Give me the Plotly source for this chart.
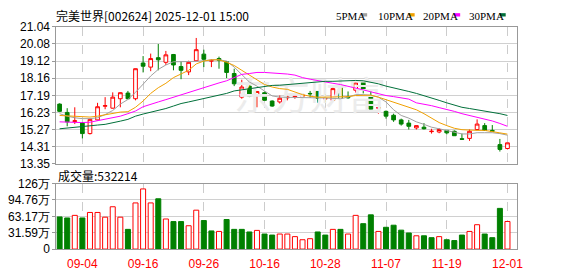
import plotly.graph_objects as go

W, H = 578, 276

dates = ["09-01","09-02","09-03","09-04","09-05","09-08","09-09","09-10","09-11","09-12",
         "09-15","09-16","09-17","09-18","09-19","09-22","09-23","09-24","09-25","09-26",
         "09-29","09-30","10-09","10-10","10-13","10-14","10-15","10-16","10-17","10-20",
         "10-21","10-22","10-23","10-24","10-27","10-28","10-29","10-30","10-31","11-03",
         "11-04","11-05","11-06","11-07","11-10","11-11","11-12","11-13","11-14","11-17",
         "11-18","11-19","11-20","11-21","11-24","11-25","11-26","11-27","11-28","12-01"]

opens = [16.70,16.23,15.72,15.63,15.04,15.81,16.58,16.47,17.00,17.32,
         17.00,19.01,18.78,19.31,19.05,19.49,18.81,18.51,19.135,19.51,
         19.12,19.26,19.08,18.42,17.09,17.71,17.23,17.34,16.87,16.82,
         17.05,17.12,17.14,17.30,17.41,16.99,16.91,17.66,17.10,17.48,
         17.98,17.18,16.47,16.29,16.07,15.81,15.63,15.36,15.40,15.15,
         15.13,15.22,15.17,14.75,14.77,15.27,15.49,15.22,14.42,14.20]
highs = [16.74,16.47,16.52,15.68,15.88,16.77,17.09,17.36,17.36,17.44,
         18.70,19.40,19.54,20.08,19.69,19.52,19.10,19.14,20.42,19.76,
         19.22,19.37,19.08,18.69,18.07,18.07,17.41,17.41,16.91,17.18,
         17.23,17.30,17.30,17.44,17.41,17.27,17.71,17.66,17.41,17.94,
         17.98,17.41,16.50,16.34,16.16,15.88,15.81,15.49,15.63,15.31,
         15.34,15.22,15.22,15.04,15.27,15.84,15.63,15.52,14.74,14.52]
lows = [16.25,15.45,15.575,14.77,14.99,15.78,16.41,16.45,16.52,16.98,
        16.91,18.48,18.55,18.60,18.90,18.60,18.10,18.33,19.12,18.78,
        18.78,18.69,18.16,17.71,17.00,17.09,16.52,16.91,16.55,16.73,
        16.91,17.00,17.00,17.05,16.77,16.80,16.87,16.91,17.00,17.35,
        17.30,16.29,16.16,15.88,15.70,15.49,15.27,15.27,15.27,15.04,
        15.06,14.99,14.92,14.70,14.63,15.22,15.22,15.17,14.03,14.15]
closes = [16.29,15.70,15.76,15.04,15.84,16.55,16.61,17.09,17.34,17.00,
          18.69,18.83,19.26,19.19,19.47,18.90,18.60,19.05,19.76,19.22,
          19.14,19.16,18.48,17.84,17.66,17.14,17.41,16.91,16.59,17.03,
          17.09,17.15,17.21,17.28,17.02,17.01,17.57,17.03,17.06,17.89,
          17.48,16.41,16.50,16.02,15.81,15.575,15.45,15.49,15.31,15.17,
          15.27,15.08,14.92,14.72,15.17,15.575,15.22,15.17,14.15,14.52]

ma5 = [16.16,16.02,15.93,15.88,15.88,15.93,16.11,16.34,16.70,16.96,
       17.36,17.84,18.28,18.65,18.90,19.08,19.08,19.08,19.10,19.14,
       19.19,19.19,19.12,18.78,18.37,17.94,17.71,17.41,17.16,17.09,
       17.09,17.09,17.09,17.09,17.05,17.04,17.02,17.00,17.09,17.23,
       17.23,17.20,17.09,16.82,16.38,16.06,15.91,15.70,15.56,15.40,
       15.31,15.22,15.13,15.02,15.02,15.09,15.09,15.09,15.04,14.95]
ma10 = [16.06,16.04,16.02,15.98,15.97,16.02,16.09,16.18,16.25,16.27,
        16.52,16.87,17.30,17.62,17.87,18.19,18.41,18.60,18.96,19.12,
        19.19,19.19,19.05,18.87,18.60,18.33,18.07,17.80,17.66,17.57,
        17.53,17.36,17.23,17.14,17.09,17.09,17.09,17.09,17.12,17.18,
        17.21,17.20,17.09,16.95,16.79,16.64,16.52,16.38,16.16,15.93,
        15.66,15.49,15.34,15.26,15.22,15.22,15.22,15.17,15.08,15.01]
ma20 = [15.70,15.68,15.66,15.66,15.68,15.77,15.88,15.95,16.02,16.16,
        16.31,16.55,16.70,16.82,16.95,17.09,17.23,17.34,17.48,17.62,
        17.75,17.89,18.01,18.19,18.37,18.42,18.48,18.48,18.46,18.42,
        18.39,18.33,18.19,18.10,18.01,17.93,17.87,17.80,17.71,17.62,
        17.50,17.39,17.27,17.18,17.12,17.05,16.98,16.77,16.70,16.61,
        16.50,16.41,16.29,16.16,16.06,15.97,15.88,15.75,15.61,15.45]
ma30 = [15.31,15.36,15.40,15.43,15.47,15.52,15.56,15.63,15.74,15.84,
        16.02,16.14,16.23,16.34,16.45,16.59,16.73,16.82,16.91,17.00,
        17.09,17.21,17.30,17.44,17.50,17.57,17.62,17.71,17.75,17.76,
        17.80,17.80,17.84,17.89,17.94,17.98,17.98,18.00,18.03,18.03,
        18.01,17.94,17.84,17.71,17.62,17.50,17.41,17.30,17.18,17.05,
        16.91,16.77,16.64,16.52,16.45,16.38,16.32,16.27,16.16,16.06]

# volume in 万 (10k)
volume = [62,60,65,60,70.6,70.6,61.5,81.6,61.5,38,
          89,116,89,97,58,53,53,45,75,55,
          35,34,57,38,38,33,36,29,27,29,
          29,24,18,20,33,27,38,38,29,65,
          49,66,34,42,46,36.5,31,25.6,25.6,22,
          24,18,16.4,27,34,47,29,22,78.5,53.2214]
last_volume_text = "532214"

price_ticks = [13.35,14.31,15.27,16.23,17.19,18.16,19.12,20.08,21.04]
price_tick_text = ["13.35","14.31","15.27","16.23","17.19","18.16","19.12","20.08","21.04"]
vol_ticks = [0,31.59,63.17,94.76,126.35]
vol_tick_text = ["0","31.59万","63.17万","94.76万","126万"]
label_dates = ["09-04","09-16","09-26","10-16","10-28","11-07","11-19","12-01"]

RED = "#ff0000"
GREEN = "#008000"
MA_COLORS = {"5PMA": "#a0a0a0", "10PMA": "#f0a000", "20PMA": "#ff00ff", "30PMA": "#00703a"}

def px_x(p):
    return p / W

def px_y(p):
    return 1 - p / H

fig = go.Figure()

# watermark (drawn first so it sits under the marks)
fig.add_trace(go.Scatter(x=[dates[33]], y=[16.98], mode="text", text=["东方财富"],
                         textfont=dict(size=38, color="#ececec", family="Noto Sans CJK SC"),
                         hoverinfo="skip", showlegend=False, xaxis="x", yaxis="y"))

fig.add_trace(go.Candlestick(
    x=dates, open=opens, high=highs, low=lows, close=closes,
    increasing=dict(line=dict(color=RED, width=1), fillcolor="white"),
    decreasing=dict(line=dict(color=GREEN, width=1), fillcolor=GREEN),
    whiskerwidth=0, showlegend=False, xaxis="x", yaxis="y", hoverinfo="skip"))

for name, vals in [("5PMA", ma5), ("10PMA", ma10), ("20PMA", ma20), ("30PMA", ma30)]:
    fig.add_trace(go.Scatter(x=dates, y=vals, mode="lines",
                             line=dict(color=MA_COLORS[name], width=1),
                             showlegend=False, hoverinfo="skip", xaxis="x", yaxis="y"))

# volume colours: close vs previous close
vol_up = []
for i in range(len(closes)):
    ref = closes[i - 1] if i > 0 else opens[i]
    vol_up.append(closes[i] >= ref)
fill = ["white" if u else GREEN for u in vol_up]
edge = [RED if u else GREEN for u in vol_up]
fig.add_trace(go.Bar(x=dates, y=volume, marker=dict(color=fill, line=dict(color=edge, width=1)),
                     width=0.66, showlegend=False, hoverinfo="skip", xaxis="x2", yaxis="y2"))

xdom = [px_x(57), px_x(522)]
xr = [-0.42, 60.2]
common_x = dict(type="category", categoryorder="array", categoryarray=dates,
                range=xr, domain=xdom, tickmode="array", tickvals=label_dates,
                showgrid=True, gridcolor="#cccccc", griddash="dash", gridwidth=1,
                showline=True, mirror=True, linecolor="#999999", linewidth=1,
                zeroline=False, fixedrange=True)

fig.update_layout(
    width=W, height=H, margin=dict(l=0, r=0, t=0, b=0),
    paper_bgcolor="white", plot_bgcolor="white", showlegend=False,
    xaxis=dict(common_x, anchor="y", showticklabels=False, rangeslider=dict(visible=False)),
    yaxis=dict(domain=[px_y(165), px_y(21)], range=[13.35, 21.04], tickmode="array",
               tickvals=price_ticks, ticktext=price_tick_text,
               showgrid=True, gridcolor="#d0d0d0", gridwidth=1,
               showline=True, mirror=True, linecolor="#999999", linewidth=1,
               ticks="outside", ticklen=3, tickcolor="#999999", zeroline=False,
               tickfont=dict(family="Liberation Sans", size=12, color="#000000")),
    xaxis2=dict(common_x, anchor="y2", ticktext=label_dates, ticks="", ticklabelstandoff=4,
                tickfont=dict(family="Liberation Sans", size=12, color=RED)),
    yaxis2=dict(domain=[px_y(255), px_y(186)], range=[0, 126.35], tickmode="array",
                tickvals=vol_ticks, ticktext=vol_tick_text,
                showgrid=True, gridcolor="#d0d0d0", gridwidth=1,
                showline=True, mirror=True, linecolor="#999999", linewidth=1,
                ticks="outside", ticklen=3, tickcolor="#999999", zeroline=False,
                tickfont=dict(family="Liberation Sans", size=12, color="#000000")),
)

annotations = [
    dict(text="完美世界[002624] 2025-12-01 15:00", x=px_x(55), y=px_y(9), xanchor="left", yanchor="middle",
         font=dict(family="Noto Sans CJK SC", size=12, color="#000000")),
    dict(text="成交量:" + last_volume_text, x=px_x(57), y=px_y(177), xanchor="left", yanchor="middle",
         font=dict(family="Noto Sans CJK SC", size=12, color="#000000")),
]
legend_pos = [("5PMA", 338, 365), ("10PMA", 380, 413), ("20PMA", 425, 459), ("30PMA", 472, 505)]
shapes = []
for name, tx, kx in legend_pos:
    annotations.append(dict(text=name, x=px_x(tx), y=px_y(9), xanchor="left", yanchor="middle",
                            font=dict(family="Liberation Serif", size=11, color="#000000")))
    shapes.append(dict(type="rect", xref="paper", yref="paper", x0=px_x(kx), x1=px_x(kx + 6),
                       y0=px_y(10), y1=px_y(6.5), fillcolor=MA_COLORS[name], line=dict(width=0)))
for a in annotations:
    a.update(xref="paper", yref="paper", showarrow=False)
fig.update_layout(annotations=annotations, shapes=shapes)

fig.write_html("out.html")
